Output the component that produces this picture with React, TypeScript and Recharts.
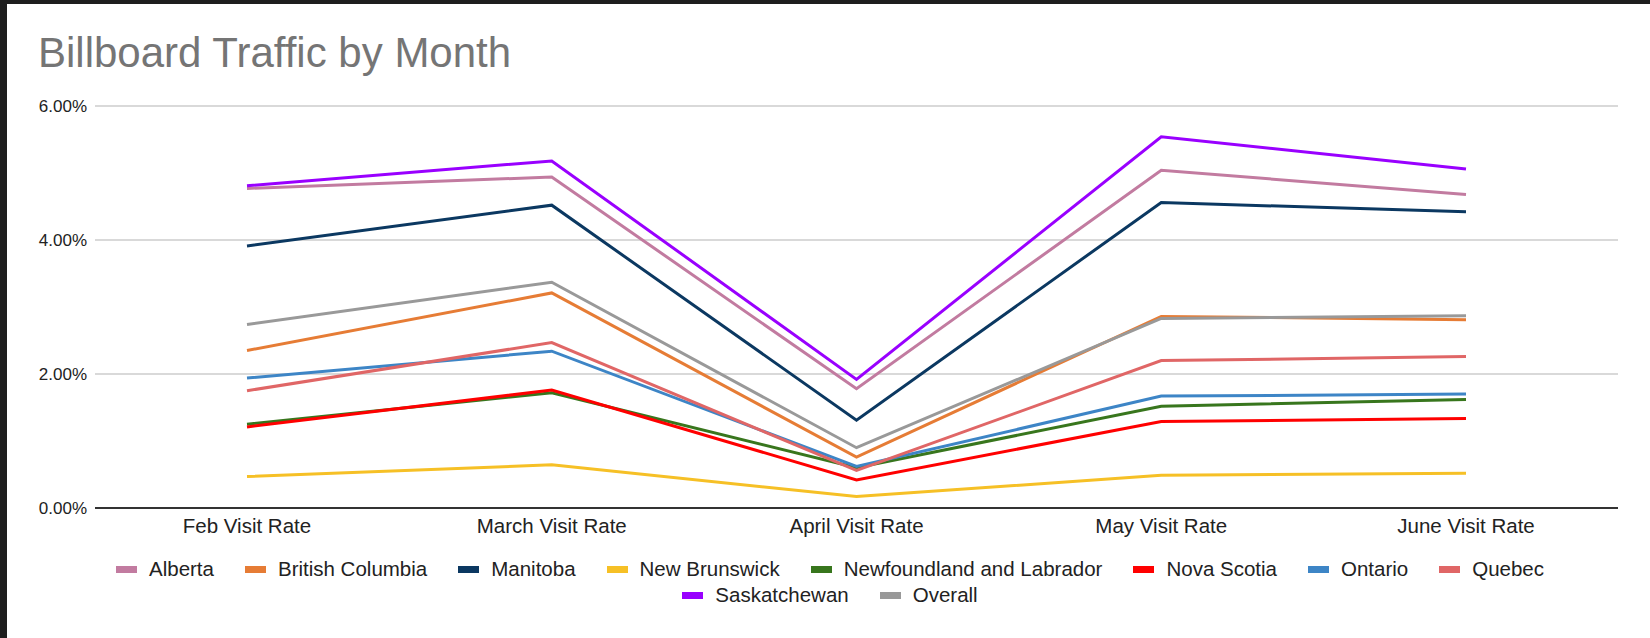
import React from 'react';
import { LineChart, Line, XAxis, YAxis, CartesianGrid, Legend } from 'recharts';

// visit rates in percent
const months = ['Feb Visit Rate', 'March Visit Rate', 'April Visit Rate', 'May Visit Rate', 'June Visit Rate'];

const alberta = [4.77, 4.94, 1.78, 5.04, 4.68];
const britishColumbia = [2.35, 3.21, 0.76, 2.86, 2.81];
const manitoba = [3.91, 4.52, 1.31, 4.56, 4.42];
const newBrunswick = [0.47, 0.645, 0.17, 0.49, 0.52];
const newfoundland = [1.25, 1.72, 0.6, 1.52, 1.62];
const novaScotia = [1.21, 1.76, 0.42, 1.29, 1.335];
const ontario = [1.94, 2.34, 0.62, 1.67, 1.7];
const quebec = [1.75, 2.47, 0.56, 2.2, 2.26];
const saskatchewan = [4.81, 5.18, 1.92, 5.54, 5.06];
const overall = [2.74, 3.37, 0.9, 2.83, 2.87];

const yTicks = [0, 2, 4, 6];

const series = [
  { name: 'Alberta', values: alberta, color: '#c27ba0' },
  { name: 'British Columbia', values: britishColumbia, color: '#e67c35' },
  { name: 'Manitoba', values: manitoba, color: '#0b3861' },
  { name: 'New Brunswick', values: newBrunswick, color: '#f6c026' },
  { name: 'Newfoundland and Labrador', values: newfoundland, color: '#38761d' },
  { name: 'Nova Scotia', values: novaScotia, color: '#ff0000' },
  { name: 'Ontario', values: ontario, color: '#3d85c6' },
  { name: 'Quebec', values: quebec, color: '#e06666' },
  { name: 'Saskatchewan', values: saskatchewan, color: '#9900ff' },
  { name: 'Overall', values: overall, color: '#999999' },
];

const data = months.map((month, i) => {
  const row: Record<string, string | number> = { month };
  series.forEach(s => { row[s.name] = s.values[i]; });
  return row;
});

const FONT = '"Liberation Sans", Arial, sans-serif';

const renderLegend = () => (
  <div style={{ display: 'flex', flexWrap: 'wrap', justifyContent: 'center', alignContent: 'center', columnGap: 31, height: 56, fontFamily: FONT }}>
    {series.map(s => (
      <div key={s.name} style={{ display: 'flex', alignItems: 'center', height: 26, fontSize: 20.5, color: '#222' }}>
        <span style={{ display: 'inline-block', width: 21, height: 7, background: s.color, marginRight: 12 }} />
        {s.name}
      </div>
    ))}
  </div>
);

const App: React.FC = () => {
  return (
    <div style={{ position: 'fixed', left: 0, top: 0, width: 1650, height: 638, background: '#1e1e1e', overflow: 'hidden' }}>
      <div style={{ position: 'absolute', left: 7, top: 4, right: 0, bottom: 0, background: '#fff' }} />
      <div style={{ position: 'absolute', left: 38, top: 32, fontFamily: FONT, fontSize: 42, lineHeight: '42px', color: '#757575', whiteSpace: 'nowrap' }}>
        Billboard Traffic by Month
      </div>
      <div style={{ position: 'absolute', left: 0, top: 0 }}>
        <LineChart width={1650} height={638} data={data} margin={{ top: 106, right: 32, bottom: 28, left: 0 }} style={{ fontFamily: FONT }}>
          <CartesianGrid vertical={false} stroke="#cccccc" strokeWidth={1.5} />
          <XAxis
            dataKey="month"
            interval={0}
            tickLine={false}
            axisLine={{ stroke: '#333', strokeWidth: 2 }}
            tick={{ fill: '#222', fontSize: 20.5 }}
            tickMargin={4}
            height={46}
            padding={{ left: 152, right: 152 }}
          />
          <YAxis
            domain={[0, 6]}
            ticks={yTicks}
            tickFormatter={(v: number) => `${v.toFixed(2)}%`}
            axisLine={false}
            tickLine={false}
            width={95}
            tick={{ fill: '#222', fontSize: 17 }}
          />
          <Legend verticalAlign="bottom" content={renderLegend} wrapperStyle={{ left: 40, width: 1580 }} />
          {series.map(s => (
            <Line
              key={s.name}
              type="linear"
              dataKey={s.name}
              stroke={s.color}
              strokeWidth={3}
              dot={false}
              activeDot={false}
              isAnimationActive={false}
            />
          ))}
        </LineChart>
      </div>
    </div>
  );
};

export default App;
